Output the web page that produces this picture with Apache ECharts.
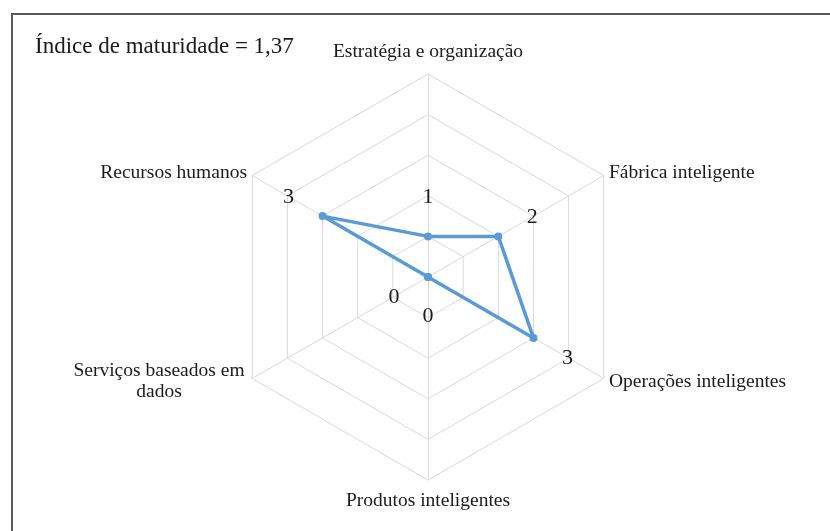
<!DOCTYPE html>
<html>
<head>
<meta charset="utf-8">
<script src="https://cdn.jsdelivr.net/npm/echarts@6/dist/echarts.min.js"></script>
<style>
  html, body { margin: 0; padding: 0; background: #fff; }
  #chart { width: 830px; height: 531px; }
</style>
</head>
<body>
<div id="chart"></div>
<script>
// listed counter-clockwise from the top, the way the radar lays them out
const dimensions = [
  'Estratégia e organização',
  'Recursos humanos',
  'Serviços baseados em\ndados',
  'Produtos inteligentes',
  'Operações inteligentes',
  'Fábrica inteligente'
]
const maturity = [1, 3, 0, 0, 3, 2]
const maxLevel = 5
const indexText = 'Índice de maturidade = 1,37'

const chart = echarts.init(document.getElementById('chart'))

// shift each value label outward along its own axis
const labelRich = {}
dimensions.forEach((d, i) => {
  const ang = (90 + 60 * i) * Math.PI / 180
  const dx = Math.round(39 * Math.cos(ang))
  const dy = Math.round(-39 * Math.sin(ang))
  labelRich['p' + i] = {
    fontFamily: 'Liberation Serif',
    fontSize: 22,
    color: '#1a1a1a',
    padding: [2 * Math.max(dy, 0), 2 * Math.max(-dx, 0), 2 * Math.max(-dy, 0), 2 * Math.max(dx, 0)]
  }
})

chart.setOption({
  animation: false,
  title: {
    text: indexText,
    left: 30,
    top: 30,
    textStyle: { fontFamily: 'Liberation Serif', fontSize: 23, fontWeight: 'normal', color: '#1a1a1a' }
  },
  graphic: [{
    type: 'rect',
    shape: { x: 12, y: 14, width: 840, height: 560 },
    style: { fill: null, stroke: '#595959', lineWidth: 2 },
    silent: true
  }],
  radar: {
    center: [428, 277],
    radius: 203,
    startAngle: 90,
    shape: 'polygon',
    splitNumber: 5,
    indicator: dimensions.map((name) => ({ name, min: 0, max: maxLevel })),
    nameGap: 6,
    axisName: {
      fontFamily: 'Liberation Serif',
      fontSize: 19.5,
      color: '#1a1a1a',
      formatter: (name) => {
        if (name === dimensions[0]) return '{t|' + name + '}'
        if (name === dimensions[3]) return '{b|' + name + '}'
        if (name === dimensions[2]) return name.split('\n').map((s) => '{s|' + s + '}').join('\n')
        return name
      },
      rich: {
        t: { fontFamily: 'Liberation Serif', fontSize: 19.5, color: '#1a1a1a', padding: [0, 0, 6, 0] },
        b: { fontFamily: 'Liberation Serif', fontSize: 19.5, color: '#1a1a1a', padding: [5, 0, 0, 0] },
        s: { fontFamily: 'Liberation Serif', fontSize: 19.5, color: '#1a1a1a', width: 176, align: 'center', lineHeight: 21 }
      }
    },
    splitLine: { lineStyle: { color: '#d9d9d9', width: 1 } },
    splitArea: { show: false },
    axisLine: { lineStyle: { color: '#d9d9d9', width: 1 } },
    axisTick: { show: false },
    axisLabel: { show: false }
  },
  series: [{
    type: 'radar',
    symbol: 'circle',
    symbolSize: 8,
    lineStyle: { color: '#5b9bd5', width: 3.5 },
    itemStyle: { color: '#5b9bd5' },
    label: {
      show: true,
      position: 'inside',
      formatter: (p) => '{p' + p.dimensionIndex + '|' + p.value + '}',
      rich: labelRich
    },
    data: [{ value: maturity, name: 'Maturidade' }]
  }]
})
</script>
</body>
</html>
